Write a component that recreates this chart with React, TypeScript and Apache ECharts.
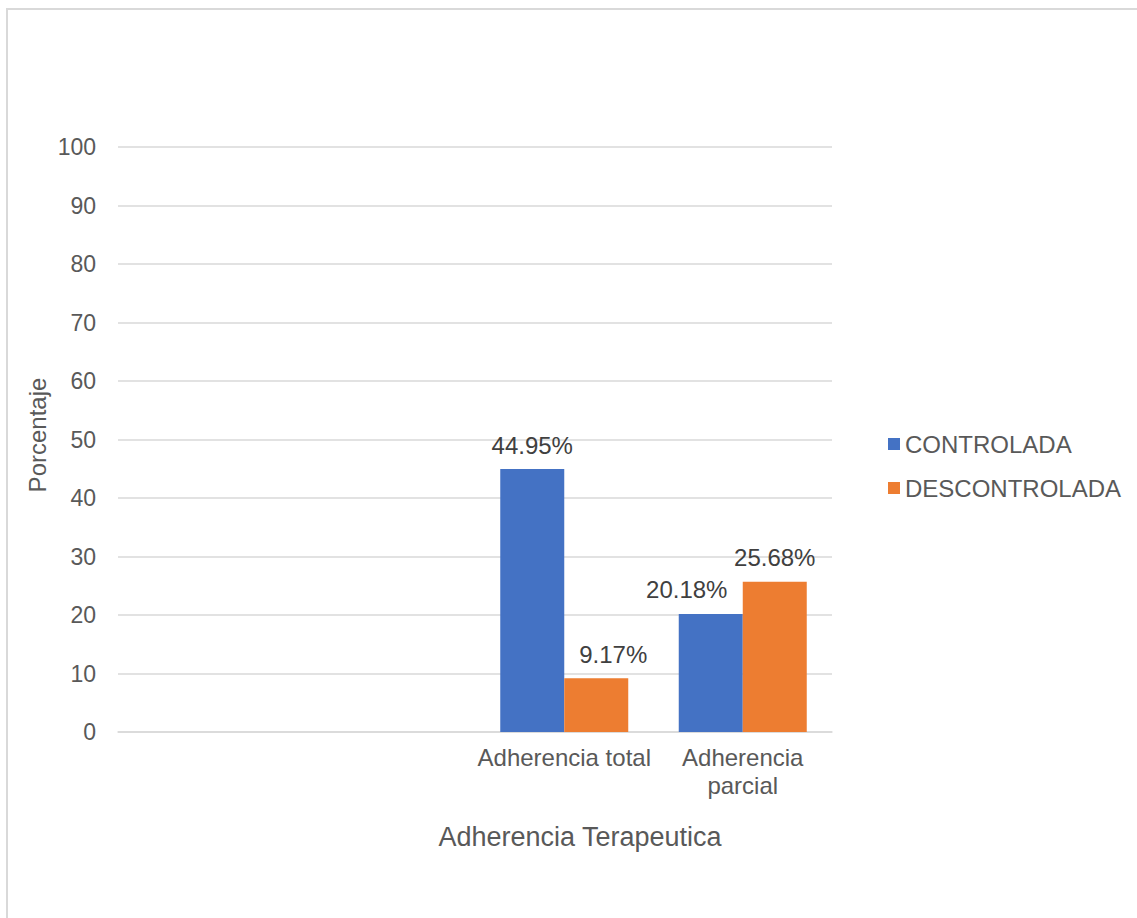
import React, { useEffect, useRef } from "react";
import * as echarts from "echarts";

// Categories on the x axis (the first two slots are left empty)
const categories = ["", "", "Adherencia total", "Adherencia parcial"];
const seriesNames = ["CONTROLADA", "DESCONTROLADA"];
const controlada = [null, null, 44.95, 20.18];
const descontrolada = [null, null, 9.17, 25.68];
const yTicks = { min: 0, max: 100, interval: 10 };

const FONT = "'Liberation Sans', Arial, sans-serif";
const BLUE = "#4472C4";
const ORANGE = "#ED7D31";
const GRID = "#d9d9d9";
const AXIS_TEXT = "#595959";

// Horizontal nudges for the value labels so neighbouring labels don't collide
const controladaLabelShift = [0, 0, 0, -24];
const descontroladaLabelShift = [0, 0, 17, 0];

const toItems = (values: (number | null)[], shifts: number[]) =>
  values.map((v, i) => ({ value: v, label: { offset: [shifts[i], 0] } }));

export default function App() {
  const ref = useRef<HTMLDivElement>(null);

  useEffect(() => {
    if (!ref.current) return;
    const chart = echarts.init(ref.current, undefined, { renderer: "svg" });

    const barLabel = {
      show: true,
      position: "top",
      distance: 12,
      color: "#404040",
      fontFamily: FONT,
      fontSize: 24,
      formatter: (p: any) => `${Number(p.value).toFixed(2)}%`,
    };

    chart.setOption({
      animation: false,
      backgroundColor: "#ffffff",
      textStyle: { fontFamily: FONT },
      grid: { left: 118, right: 305, top: 147, bottom: 186, containLabel: false },
      legend: {
        orient: "vertical",
        left: 883,
        top: 427,
        itemWidth: 12,
        itemHeight: 12,
        itemGap: 20,
        icon: "rect",
        textStyle: { color: AXIS_TEXT, fontSize: 24, fontFamily: FONT },
        data: seriesNames,
      },
      xAxis: {
        type: "category",
        data: categories,
        axisLine: { show: true, lineStyle: { color: GRID, width: 1.5 } },
        axisTick: { show: false },
        axisLabel: {
          color: AXIS_TEXT,
          fontSize: 24,
          fontFamily: FONT,
          margin: 11,
          lineHeight: 28,
          interval: 0,
          formatter: (v: string) => (v === "Adherencia parcial" ? "Adherencia\nparcial" : v),
        },
      },
      yAxis: {
        type: "value",
        min: yTicks.min,
        max: yTicks.max,
        interval: yTicks.interval,
        axisLine: { show: false },
        axisTick: { show: false },
        splitLine: { lineStyle: { color: GRID, width: 1.5 } },
        axisLabel: { color: AXIS_TEXT, fontSize: 23, fontFamily: FONT, margin: 22 },
      },
      series: [
        {
          name: seriesNames[0],
          type: "bar",
          data: toItems(controlada, controladaLabelShift),
          barWidth: 64,
          barGap: "0%",
          itemStyle: { color: BLUE },
          label: barLabel,
        },
        {
          name: seriesNames[1],
          type: "bar",
          data: toItems(descontrolada, descontroladaLabelShift),
          barWidth: 64,
          barGap: "0%",
          itemStyle: { color: ORANGE },
          label: barLabel,
        },
      ],
      graphic: [
        {
          type: "rect",
          shape: { x: 7, y: 9, width: 1300, height: 1100 },
          style: { fill: "none", stroke: GRID, lineWidth: 2 },
          silent: true,
        },
        {
          type: "text",
          x: 580,
          y: 837,
          style: {
            text: "Adherencia Terapeutica",
            fill: AXIS_TEXT,
            fontSize: 27,
            fontFamily: FONT,
            textAlign: "center",
            textVerticalAlign: "middle",
          },
        },
        {
          type: "text",
          x: 37,
          y: 435,
          rotation: Math.PI / 2,
          style: {
            text: "Porcentaje",
            fill: AXIS_TEXT,
            fontSize: 24,
            fontFamily: FONT,
            textAlign: "center",
            textVerticalAlign: "middle",
          },
        },
      ],
    });

    return () => chart.dispose();
  }, []);

  return (
    <div
      ref={ref}
      style={{ position: "absolute", left: 0, top: 0, width: 1137, height: 918 }}
    />
  );
}
